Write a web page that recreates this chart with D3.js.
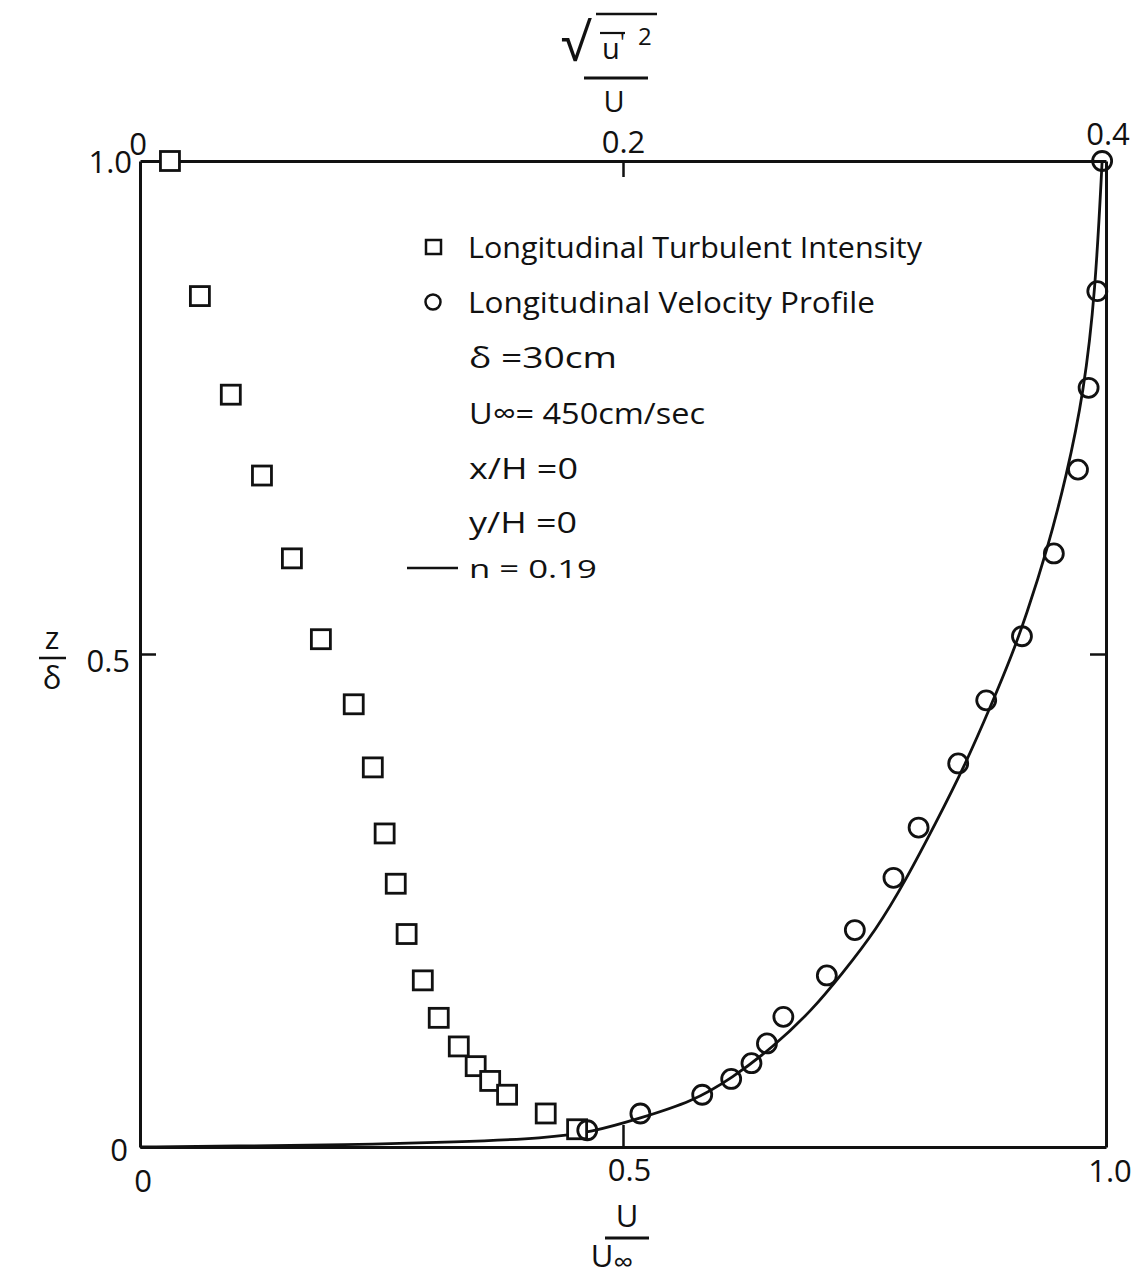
<!DOCTYPE html>
<html><head><meta charset="utf-8">
<script src="https://cdn.jsdelivr.net/npm/d3@7"></script>
<style>
body{margin:0;background:#fff;}
svg text{font-family:"Open Sans","DejaVu Sans",sans-serif;fill:#111;}
</style></head>
<body><svg id="c" width="1133" height="1279"></svg>
<script>
// Longitudinal turbulent intensity (top axis, sqrt(u'^2)/U) vs z/δ
const turbIntensity = [0.0124,0.0248,0.0376,0.0505,0.0629,0.0749,0.0885,0.0964,0.1013,0.1059,0.1104,0.1171,0.1237,0.132,0.139,0.145,0.152,0.168,0.181];
const turbZ        = [1.0,0.863,0.763,0.681,0.597,0.515,0.449,0.385,0.318,0.267,0.216,0.169,0.131,0.102,0.082,0.067,0.053,0.034,0.018];
// Longitudinal velocity profile (bottom axis, U/U∞) vs z/δ
const velU = [0.996,0.991,0.982,0.971,0.946,0.913,0.876,0.847,0.806,0.780,0.740,0.711,0.666,0.649,0.633,0.612,0.582,0.518,0.463];
const velZ = [1.0,0.868,0.770,0.687,0.602,0.518,0.453,0.389,0.324,0.273,0.220,0.174,0.132,0.105,0.085,0.069,0.053,0.034,0.017];
// power-law fit curve n = 0.19
const curveU = [0,0.10,0.21,0.33,0.42,0.468,0.517,0.572,0.613,0.655,0.696,0.727,0.762,0.793,0.824,0.853,0.882,0.903,0.917,0.939,0.959,0.977,0.989,0.996];
const curveZ = [0,0.001,0.002,0.005,0.009,0.015,0.029,0.046,0.070,0.101,0.139,0.176,0.220,0.271,0.329,0.385,0.450,0.500,0.538,0.605,0.680,0.765,0.867,1.0];
// tick labels
const bottomTicks = [0,0.5,1.0], bottomLabels = ["0","0.5","1.0"];
const topTicks = [0,0.2,0.4], topLabels = ["0","0.2","0.4"];
const leftTicks = [0,0.5,1.0], leftLabels = ["0","0.5","1.0"];
const legendLines = ["Longitudinal Turbulent Intensity","Longitudinal Velocity Profile","δ =30cm","U∞= 450cm/sec","x/H =0","y/H =0"];
const fitLabel = "n = 0.19";

const svg = d3.select("#c");
const L=140,R=1106,T=161,B=1147;
const xB = d3.scaleLinear().domain([0,1]).range([L,R]);
const xT = d3.scaleLinear().domain([0,0.4]).range([L,R]);
const y  = d3.scaleLinear().domain([0,1]).range([B,T]);
const ink="#111";
const FS=31;

function styleAxis(g){
  g.selectAll("path.domain").attr("stroke",ink).attr("stroke-width",3);
  g.selectAll(".tick line").attr("stroke",ink).attr("stroke-width",2.5);
  g.selectAll(".tick text").attr("font-size",FS).attr("fill",ink).attr("font-family",'"Open Sans",sans-serif');
}
// bottom axis
const gb = svg.append("g").attr("transform",`translate(0,${B})`)
  .call(d3.axisBottom(xB).tickValues([0.5]).tickSizeInner(-22).tickSizeOuter(0).tickPadding(12).tickFormat((d)=>bottomLabels[bottomTicks.indexOf(d)]));
styleAxis(gb);
gb.selectAll(".tick text").attr("dx",6);
svg.append("text").attr("x",xB(0)+3).attr("y",B+45).attr("text-anchor","middle").attr("font-size",FS).text(bottomLabels[0]);
svg.append("text").attr("x",xB(1)+4).attr("y",B+35).attr("text-anchor","middle").attr("font-size",FS).text(bottomLabels[2]);

// top axis
const gt = svg.append("g").attr("transform",`translate(0,${T})`)
  .call(d3.axisTop(xT).tickValues([0.2]).tickSizeInner(-16).tickSizeOuter(0).tickPadding(8).tickFormat(d=>topLabels[topTicks.indexOf(d)]));
styleAxis(gt);
svg.append("text").attr("x",xT(0)-2).attr("y",T-6).attr("text-anchor","middle").attr("font-size",FS).text(topLabels[0]);
svg.append("text").attr("x",xT(0.4)+2).attr("y",T-16).attr("text-anchor","middle").attr("font-size",FS).text(topLabels[2]);

// left axis
const gl = svg.append("g").attr("transform",`translate(${L},0)`)
  .call(d3.axisLeft(y).tickValues([0.5]).tickSizeInner(-16).tickSizeOuter(0).tickPadding(10).tickFormat(d=>leftLabels[leftTicks.indexOf(d)]));
styleAxis(gl);
gl.selectAll(".tick text").attr("dy","0.55em");
svg.append("text").attr("x",L-8).attr("y",T+12).attr("text-anchor","end").attr("font-size",FS).text(leftLabels[2]);
svg.append("text").attr("x",L-12).attr("y",B+14).attr("text-anchor","end").attr("font-size",FS).text(leftLabels[0]);

// right axis
const gr = svg.append("g").attr("transform",`translate(${R},0)`)
  .call(d3.axisRight(y).tickValues([0.5]).tickSizeInner(-16).tickSizeOuter(0).tickFormat(""));
styleAxis(gr);

// axis titles
// left: z / δ
svg.append("text").attr("x",52).attr("y",649).attr("text-anchor","middle").attr("font-size",31).text("z");
svg.append("line").attr("x1",39).attr("x2",66).attr("y1",658).attr("y2",658).attr("stroke",ink).attr("stroke-width",2.5);
svg.append("text").attr("x",52).attr("y",689).attr("text-anchor","middle").attr("font-size",31).text("δ");
// bottom: U / U∞
svg.append("text").attr("x",627).attr("y",1227).attr("text-anchor","middle").attr("font-size",31).text("U");
svg.append("line").attr("x1",605).attr("x2",649).attr("y1",1238).attr("y2",1238).attr("stroke",ink).attr("stroke-width",2.8);
const ub = svg.append("text").attr("x",612).attr("y",1267).attr("text-anchor","middle").attr("font-size",31);
ub.append("tspan").text("U");
ub.append("tspan").attr("font-size",28).attr("dy",5).text("∞");
// top: sqrt(u'^2) / U
svg.append("text").attr("x",561).attr("y",61).attr("font-size",52).attr("font-family","DejaVu Sans").text("√");
svg.append("line").attr("x1",596).attr("x2",657).attr("y1",14).attr("y2",14).attr("stroke",ink).attr("stroke-width",2.5);
svg.append("text").attr("x",611).attr("y",59).attr("text-anchor","middle").attr("font-size",29).text("u");
svg.append("line").attr("x1",600).attr("x2",625).attr("y1",33).attr("y2",33).attr("stroke",ink).attr("stroke-width",2.2);
svg.append("text").attr("x",620).attr("y",50).attr("font-size",22).text("'");
svg.append("text").attr("x",638).attr("y",45).attr("font-size",24).text("2");
svg.append("line").attr("x1",584).attr("x2",648).attr("y1",78).attr("y2",78).attr("stroke",ink).attr("stroke-width",2.8);
svg.append("text").attr("x",614).attr("y",112).attr("text-anchor","middle").attr("font-size",29).text("U");

// fit curve
const line = d3.line().x(d=>xB(d[0])).y(d=>y(d[1])).curve(d3.curveBasis);
svg.append("path").datum(d3.zip(curveU,curveZ)).attr("d",line)
  .attr("fill","none").attr("stroke",ink).attr("stroke-width",2.8);

// squares
const sq=19;
svg.append("g").selectAll("rect").data(d3.zip(turbIntensity,turbZ)).join("rect")
  .attr("x",d=>xT(d[0])-sq/2).attr("y",d=>y(d[1])-sq/2).attr("width",sq).attr("height",sq)
  .attr("fill","#fff").attr("stroke",ink).attr("stroke-width",2.8);
// circles
svg.append("g").selectAll("circle").data(d3.zip(velU,velZ)).join("circle")
  .attr("cx",d=>xB(d[0])).attr("cy",d=>y(d[1])).attr("r",9.5)
  .attr("fill","none").attr("stroke",ink).attr("stroke-width",2.8);

// legend
const lg = svg.append("g");
lg.append("rect").attr("x",426).attr("y",240).attr("width",15).attr("height",14).attr("fill","none").attr("stroke",ink).attr("stroke-width",2.5);
lg.append("circle").attr("cx",433).attr("cy",302).attr("r",7.5).attr("fill","none").attr("stroke",ink).attr("stroke-width",2.5);
const lgY=[258,313,368,424,479,533];
const lgX=[468,468,469,469,469,469];
const lgW=[454,407,148,236,109,108];
legendLines.forEach((t,i)=>{
  lg.append("text").attr("x",lgX[i]).attr("y",lgY[i]).attr("font-size",30)
    .attr("textLength",lgW[i]).attr("lengthAdjust","spacingAndGlyphs").text(t);
});
lg.append("line").attr("x1",407).attr("x2",458).attr("y1",568).attr("y2",568).attr("stroke",ink).attr("stroke-width",2.5);
lg.append("text").attr("x",469).attr("y",578).attr("font-size",25).attr("font-family",'"Liberation Mono","DejaVu Sans Mono",monospace')
  .attr("textLength",128).attr("lengthAdjust","spacingAndGlyphs").text(fitLabel);
</script></body></html>
